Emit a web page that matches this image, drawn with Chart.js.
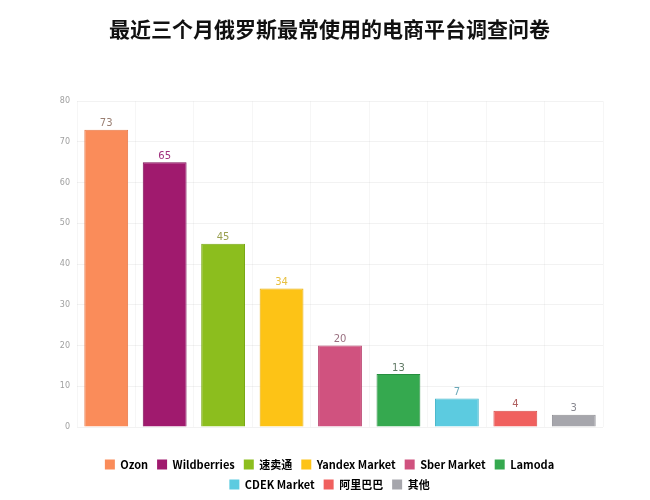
<!DOCTYPE html>
<html>
<head>
<meta charset="utf-8">
<script src="https://cdn.jsdelivr.net/npm/chart.js@4"></script>
<style>
  html, body { margin: 0; padding: 0; background: #fff; }
  #wrap { width: 650px; height: 500px; }
</style>
</head>
<body>
<div id="wrap"><canvas id="platformChart"></canvas></div>
<script>
const categories = ['Ozon', 'Wildberries', '速卖通', 'Yandex Market', 'Sber Market', 'Lamoda', 'CDEK Market', '阿里巴巴', '其他'];
const shares = [73, 65, 45, 34, 20, 13, 7, 4, 3];
const barColors = ['#FA8C5A', '#A01A6E', '#8CBE1E', '#FDC316', '#D0527F', '#35A94F', '#5CCBE0', '#F0605E', '#A6A6AC'];
const borderColors = ['#E8794A', '#7E0E56', '#7AA816', '#E8AE08', '#B8406C', '#278F40', '#47B6CB', '#D84C4A', '#8E8E94'];
const labelColors = ['#9A7F72', '#A0307E', '#9AA050', '#E8C040', '#9A7080', '#607A65', '#6AA8B8', '#B06060', '#888890'];
const yTicks = [0, 10, 20, 30, 40, 50, 60, 70, 80];

// value labels above each bar
const valueLabels = {
  id: 'valueLabels',
  afterDatasetsDraw(chart) {
    const ctx = chart.ctx;
    const meta = chart.getDatasetMeta(0);
    ctx.save();
    ctx.font = '10px "DejaVu Sans", sans-serif';
    ctx.textAlign = 'center';
    ctx.textBaseline = 'bottom';
    meta.data.forEach((bar, i) => {
      ctx.fillStyle = labelColors[i];
      ctx.fillText(shares[i], bar.x, bar.y - 1);
    });
    ctx.restore();
  }
};

const ctx = document.getElementById('platformChart').getContext('2d');
const platformChart = new Chart(ctx, {
  type: 'bar',
  data: {
    labels: categories,
    datasets: [{
      data: shares,
      backgroundColor: barColors,
      borderColor: borderColors,
      borderWidth: 1,
      barPercentage: 0.75,
      categoryPercentage: 1
    }]
  },
  options: {
    responsive: true,
    maintainAspectRatio: false,
    animation: false,
    layout: { padding: { left: 56, right: 47, top: 6, bottom: 0 } },
    scales: {
      x: {
        ticks: { display: false },
        grid: { color: 'rgba(0,0,0,0.035)', drawTicks: false },
        border: { display: false },
        afterFit(axis) { axis.height = 23; }
      },
      y: {
        min: 0,
        max: 80,
        afterBuildTicks(axis) {
          axis.ticks = yTicks.map(v => ({ value: v }));
        },
        afterFit(axis) { axis.width = 21; },
        ticks: {
          color: '#a0a0a0',
          font: { size: 8, family: 'DejaVu Sans' },
          padding: 7
        },
        grid: { color: 'rgba(0,0,0,0.05)', drawTicks: false },
        border: { display: false }
      }
    },
    plugins: {
      title: {
        display: true,
        text: '最近三个月俄罗斯最常使用的电商平台调查问卷',
        color: '#111',
        font: { size: 21, weight: 'bold', family: 'Noto Sans CJK SC' },
        padding: { top: 10, bottom: 60 }
      },
      legend: {
        position: 'bottom',
        labels: {
          boxWidth: 10,
          boxHeight: 10,
          padding: 9,
          color: '#222',
          font: { size: 11, weight: 'bold', family: 'Noto Sans CJK SC' },
          generateLabels() {
            return categories.map((name, i) => ({
              text: name,
              fillStyle: barColors[i],
              strokeStyle: barColors[i],
              lineWidth: 0,
              index: i
            }));
          }
        },
        onClick() {}
      },
      tooltip: { enabled: false }
    }
  },
  plugins: [valueLabels]
});
</script>
</body>
</html>
